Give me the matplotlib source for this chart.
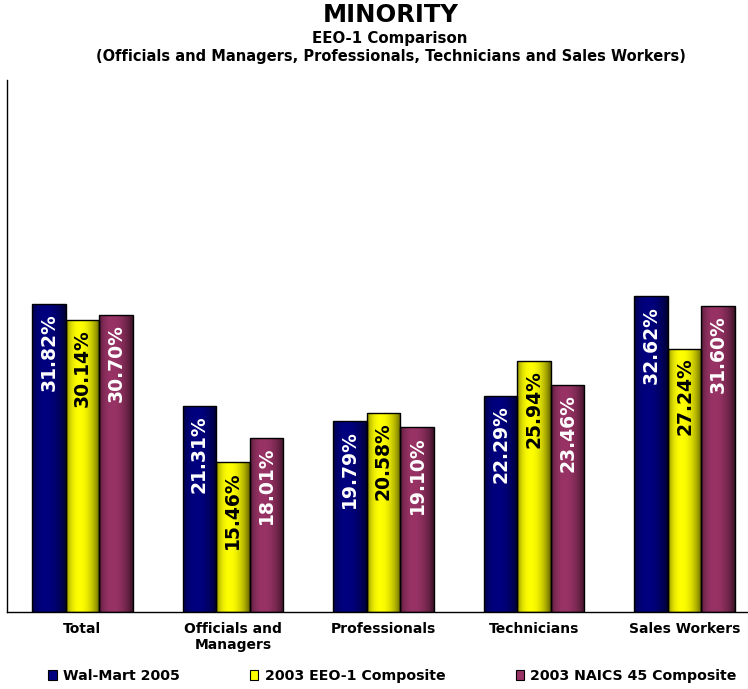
import numpy as np
import matplotlib.pyplot as plt
from matplotlib.patches import Patch
from matplotlib.colors import to_rgb

categories = ['Total', 'Officials and\nManagers', 'Professionals', 'Technicians', 'Sales Workers']
series_names = ['Wal-Mart 2005', '2003 EEO-1 Composite', '2003 NAICS 45 Composite']
walmart = [31.82, 21.31, 19.79, 22.29, 32.62]
eeo1 = [30.14, 15.46, 20.58, 25.94, 27.24]
naics = [30.70, 18.01, 19.10, 23.46, 31.60]

colors = ['#000080', '#FFFF00', '#993366']
text_colors = ['white', 'black', 'white']

fig = plt.figure(figsize=(7.48, 6.89), dpi=100)
W, H = 748, 689
# axes runs past the right edge like the original
ax = fig.add_axes([7 / W, 77 / H, 753 / W, 532 / H])
ax.set_xlim(-0.5, 4.5)
ax.set_ylim(0, 55)

x = np.arange(len(categories))
bw = 0.223

# horizontal shading profile for cylinder look
t = np.linspace(0, 1, 64)
shade = 0.22 + 0.78 * np.clip(np.sin(np.pi * (t * 0.94 + 0.03)) ** 0.5, 0, 1)
shade = shade * (1 - 0.3 * t)
shade = shade / shade.max()

for i, (vals, col, tc) in enumerate(zip([walmart, eeo1, naics], colors, text_colors)):
    bars = ax.bar(x + (i - 1) * bw, vals, bw, facecolor='none', edgecolor='black',
                  linewidth=1.0, zorder=3)
    rgb = np.array(to_rgb(col))
    grad = np.clip(shade[:, None] * rgb[None, :], 0, 1)[None, :, :]
    for b, v in zip(bars, vals):
        x0 = b.get_x()
        im = ax.imshow(grad, extent=[x0, x0 + bw, 0, v], aspect='auto',
                       interpolation='bilinear', zorder=2)
        im.set_clip_path(b)
        ax.text(x0 + bw / 2, v - 0.95, f'{v:.2f}%', rotation=90, ha='center', va='top',
                color=tc, fontsize=13.5, fontweight='bold', zorder=4)

ax.set_xlim(-0.5, 4.5)
ax.set_ylim(0, 55)
ax.set_xticks(x)
ax.set_xticklabels(categories, fontsize=10, fontweight='bold')
ax.tick_params(axis='x', length=0, pad=7)
ax.set_yticks([])
for s in ['top', 'right']:
    ax.spines[s].set_visible(False)
ax.spines['left'].set_linewidth(1.0)
ax.spines['bottom'].set_linewidth(1.0)

fig.text(391 / W, 1 - 15 / H, 'MINORITY', ha='center', va='center', fontsize=17.5, fontweight='bold')
fig.text(390 / W, 1 - 38 / H, 'EEO-1 Comparison', ha='center', va='center', fontsize=10.8, fontweight='bold')
fig.text(391 / W, 1 - 56 / H,
         '(Officials and Managers, Professionals, Technicians and Sales Workers)',
         ha='center', va='center', fontsize=10.5, fontweight='bold')

handles = [Patch(facecolor=c, edgecolor='black', linewidth=0.8) for c in colors]
fig.legend(handles, series_names, loc='center left', bbox_to_anchor=(48 / W, 1 - 676 / H),
           ncol=3, frameon=False, prop={'size': 10.2, 'weight': 'bold'},
           handlelength=0.6, handleheight=0.75, handletextpad=0.45, columnspacing=4.95,
           borderpad=0, borderaxespad=0)

fig.savefig('out.png', dpi=100)
